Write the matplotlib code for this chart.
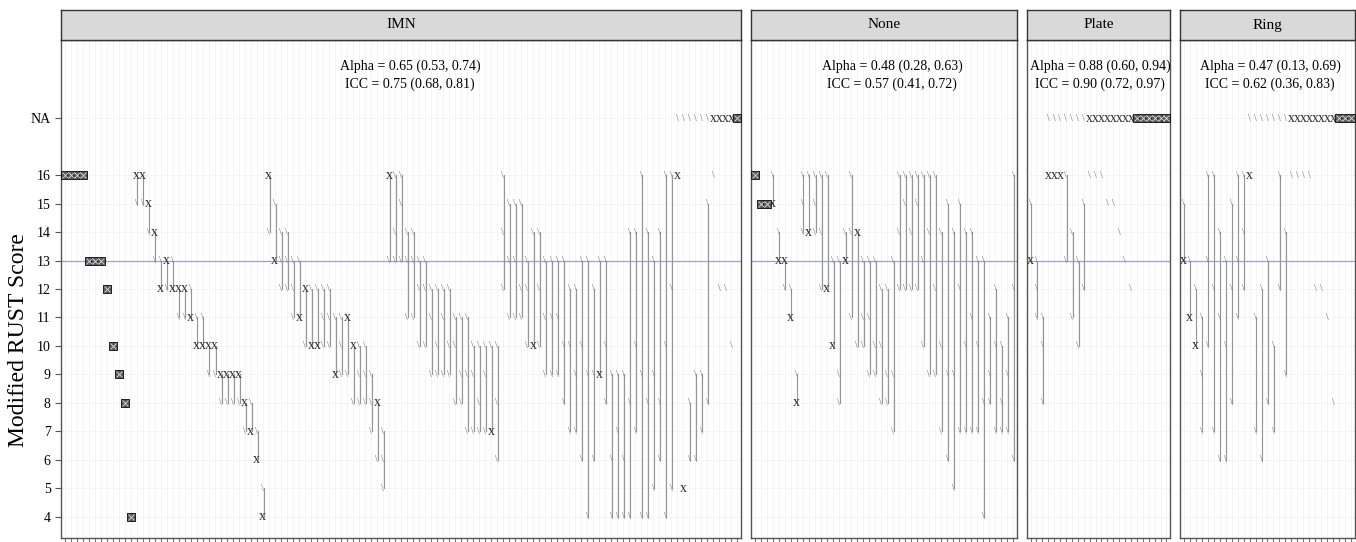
import matplotlib.pyplot as plt
from collections import Counter

N = None  # missing score, drawn in the "NA" row

# three rater scores per case, one list per facet
imn_scores = [
    (16, 16, 16), (16, 16, 16), (16, 16, 16), (16, 16, 16),
    (13, 13, 13), (13, 13, 13), (13, 13, 13), (12, 12, 12),
    (10, 10, 10), (9, 9, 9), (8, 8, 8), (4, 4, 4),
    (16, 16, 15), (16, 16, 15), (15, 15, 14), (14, 14, 13),
    (13, 12, 12), (13, 13, 12), (13, 12, 12), (12, 12, 11),
    (12, 12, 11), (12, 11, 11), (11, 10, 10), (11, 10, 10),
    (10, 10, 9), (10, 10, 9), (9, 9, 8), (9, 9, 8),
    (9, 9, 8), (9, 9, 8), (8, 8, 7), (8, 7, 7),
    (7, 6, 6), (5, 4, 4),
    (16, 16, 14), (15, 13, 13), (14, 13, 12), (14, 13, 12),
    (13, 12, 11), (13, 11, 11), (12, 12, 10), (12, 10, 10),
    (12, 10, 10), (12, 11, 10), (12, 11, 10), (11, 9, 9),
    (11, 10, 9), (11, 11, 9), (10, 10, 8), (10, 9, 8),
    (10, 9, 8), (9, 8, 7), (8, 8, 6), (7, 6, 5),
    (16, 16, 13), (16, 14, 13), (16, 15, 13), (14, 13, 11),
    (14, 13, 11), (13, 12, 10), (13, 12, 10), (12, 11, 9),
    (12, 10, 9), (12, 11, 9), (12, 10, 9), (11, 10, 8),
    (11, 9, 8), (11, 9, 7), (10, 9, 7), (10, 8, 7),
    (10, 9, 7), (10, 7, 7), (10, 8, 6),
    (16, 14, 12), (15, 13, 11), (15, 13, 11), (15, 12, 11),
    (13, 12, 10), (14, 10, 10), (14, 12, 10), (13, 11, 9),
    (13, 11, 9), (13, 11, 9), (13, 10, 8), (12, 10, 7),
    (12, 9, 7), (13, 10, 6), (13, 9, 4), (12, 9, 6),
    (13, 9, 9), (13, 10, 8), (9, 6, 4), (9, 7, 4),
    (9, 6, 4), (14, 8, 4), (14, 10, 7), (16, 9, 4),
    (14, 8, 4), (13, 9, 5), (14, 8, 6), (16, 10, 4),
    (16, 12, 5), (16, 16, N), (5, 5, N), (8, 6, N),
    (9, 6, N), (9, 7, N), (15, 8, N), (16, N, N),
    (12, N, N), (12, N, N), (10, N, N), (N, N, N),
]

none_scores = [
    (16, 16, 16), (15, 15, 15), (15, 15, 15), (16, 15, 15),
    (14, 13, 13), (13, 13, 12), (12, 11, 11), (9, 8, 8),
    (16, 15, 14), (16, 14, 14), (16, 15, 14), (16, 14, 12),
    (16, 12, 12), (13, 10, 10), (13, 9, 8), (14, 13, 13),
    (16, 14, 11), (14, 14, 10), (13, 11, 10), (13, 11, 9),
    (13, 10, 9), (12, 10, 8), (12, 9, 8), (13, 9, 7),
    (16, 14, 12), (16, 15, 12), (16, 14, 12), (16, 15, 12),
    (16, 13, 10), (16, 14, 9), (16, 12, 9), (14, 10, 7),
    (15, 9, 6), (14, 9, 5), (15, 12, 7), (14, 10, 7),
    (14, 11, 7), (13, 10, 7), (13, 8, 4), (11, 9, 8),
    (12, 10, 7), (10, 8, 7), (11, 9, 7), (16, 12, 6),
]

plate_scores = [
    (15, 13, 13), (13, 12, 11), (11, 10, 8), (16, 16, N),
    (16, 16, N), (16, 16, N), (16, 13, N), (14, 11, N),
    (13, 10, N), (15, 12, N), (16, N, N), (16, N, N),
    (16, N, N), (15, N, N), (15, N, N), (14, N, N),
    (13, N, N), (12, N, N), (N, N, N), (N, N, N),
    (N, N, N), (N, N, N), (N, N, N), (N, N, N),
]

ring_scores = [
    (15, 13, 13), (13, 11, 11), (12, 10, 10), (11, 9, 7),
    (16, 13, 10), (16, 12, 7), (14, 11, 6), (13, 10, 6),
    (15, 12, 8), (16, 13, 11), (16, 14, 12), (16, 16, N),
    (11, 7, N), (12, 6, N), (13, 8, N), (10, 7, N),
    (16, 12, N), (14, 9, N), (16, N, N), (16, N, N),
    (16, N, N), (16, N, N), (12, N, N), (12, N, N),
    (11, N, N), (8, N, N), (N, N, N), (N, N, N),
    (N, N, N),
]

facet_names = ["IMN", "None", "Plate", "Ring"]
alpha_text = ["0.65 (0.53, 0.74)", "0.48 (0.28, 0.63)", "0.88 (0.60, 0.94)", "0.47 (0.13, 0.69)"]
icc_text = ["0.75 (0.68, 0.81)", "0.57 (0.41, 0.72)", "0.90 (0.72, 0.97)", "0.62 (0.36, 0.83)"]
y_ticks = [4, 5, 6, 7, 8, 9, 10, 11, 12, 13, 14, 15, 16, 18]
y_labels = ["4", "5", "6", "7", "8", "9", "10", "11", "12", "13", "14", "15", "16", "NA"]
na_level = 18
ref_line = 13

plt.rcParams["font.family"] = ["Liberation Serif", "DejaVu Sans"]

W, H = 1356, 542
fig = plt.figure(figsize=(W / 100, H / 100), dpi=100)

panels = [(61, 741), (751, 1017), (1027, 1170), (1180, 1355)]
text_centres = [410, 892, 1100, 1270]
top, bottom, strip_top = 40, 538, 10

all_scores = [imn_scores, none_scores, plate_scores, ring_scores]

for k, (name, scores) in enumerate(zip(facet_names, all_scores)):
    x0, x1 = panels[k]
    ax = fig.add_axes([x0 / W, 1 - bottom / H, (x1 - x0) / W, (bottom - top) / H])
    n = len(scores)
    ax.set_xlim(-0.6, n - 0.4)
    ax.set_ylim(3.26, 20.74)

    # faint grid
    for i in range(n):
        ax.axvline(i, color="#f3f3f3", lw=0.6, zorder=0)
    for yt in y_ticks:
        ax.axhline(yt, color="#f3f3f3", lw=0.6, zorder=0)
    ax.axhline(ref_line, color="#9a9aff", lw=0.9, zorder=1)

    for i, case in enumerate(scores):
        vals = [na_level if v is None else v for v in case]
        rated = [v for v in case if v is not None]
        if len(set(rated)) > 1:
            ax.plot([i + 0.12, i + 0.12], [min(rated), max(rated)],
                    color="#969696", lw=0.85, zorder=2)
        for v, c in Counter(vals).items():
            if c == 1:
                ax.text(i - 0.05, v, "\\", ha="center", va="center", fontsize=7,
                        color="#6e6e6e", zorder=3)
            elif c == 2:
                ax.text(i, v, "x", ha="center", va="center", fontsize=10,
                        color="#2e2e2e", zorder=3)
            else:
                ax.scatter([i], [v], marker="s", s=26, facecolor="#5a5a5a",
                           edgecolor="#1e1e1e", lw=0.7, zorder=3)
                ax.scatter([i], [v], marker="x", s=18, color="#dddddd",
                           lw=0.6, zorder=4)

    ax.set_xticks(range(n))
    ax.set_xticklabels([])
    ax.tick_params(axis="x", length=3, color="#555555", width=0.6)
    if k == 0:
        ax.set_yticks(y_ticks)
        ax.set_yticklabels(y_labels, fontsize=10)
        ax.tick_params(axis="y", length=4, color="#555555", width=0.8)
        ax.set_ylabel("Modified RUST Score", fontsize=17)
        ax.yaxis.set_label_coords((29 - x0) / (x1 - x0), 1 - (340 - top) / (bottom - top))
    else:
        ax.set_yticks([])
    for sp in ax.spines.values():
        sp.set_color("#555555")
        sp.set_linewidth(1.0)

    tx = (text_centres[k] - x0) / (x1 - x0)
    ax.text(tx, 1 - 26 / (bottom - top), "Alpha = " + alpha_text[k], transform=ax.transAxes,
            ha="center", va="center", fontsize=10)
    ax.text(tx, 1 - 44 / (bottom - top), "ICC = " + icc_text[k], transform=ax.transAxes,
            ha="center", va="center", fontsize=10)

    # facet strip
    sax = fig.add_axes([x0 / W, 1 - top / H, (x1 - x0) / W, (top - strip_top) / H])
    sax.set_facecolor("#d9d9d9")
    sax.set_xticks([])
    sax.set_yticks([])
    for sp in sax.spines.values():
        sp.set_color("#333333")
        sp.set_linewidth(1.0)
    sax.text(0.5, 0.5, name, transform=sax.transAxes, ha="center", va="center", fontsize=11)

fig.savefig("out.png", dpi=100)
